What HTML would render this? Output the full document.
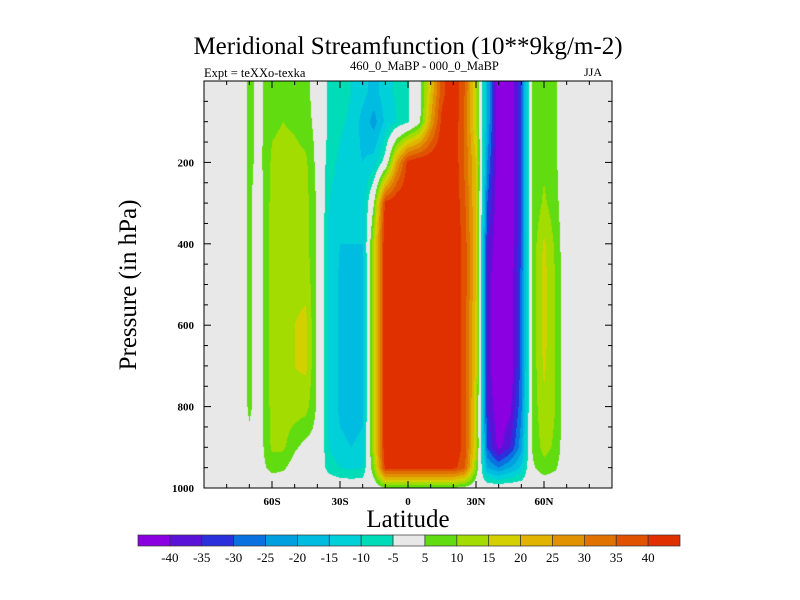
<!DOCTYPE html>
<html><head><meta charset="utf-8"><style>
body{margin:0;background:#fff;width:800px;height:600px;overflow:hidden;font-family:"Liberation Serif",serif}
#wrap{position:relative;width:800px;height:600px}
canvas{position:absolute;left:204px;top:81px}
svg{position:absolute;left:0;top:0}
</style></head><body><div id="wrap">
<canvas id="cv" width="408" height="407"></canvas>
<svg id="sv" width="800" height="600"></svg>
</div>
<script>
const lats=[-90,-85,-80,-75,-70,-65,-60,-55,-50,-45,-40,-35,-30,-25,-20,-15,-10,-5,0,5,10,15,20,25,30,35,40,45,50,55,60,65,70,75,80,85,90];
const levels=[25,100,200,300,400,500,600,700,800,900,950,1000];
// field[latIndex][levelIndex]
const field=[
[0,0,0,0,0,0,0,0,0,0,0,0],
[0,0,0,0,0,0,0,0,0,0,0,0],
[0,0,0,0,0,0,0,0,0,0,0,0],
[2,2,2,2,2,2,2,2,2,2,0,0],
[5.6,5.6,5.6,5.6,5.6,5.6,5.6,5.6,5.6,4,0,0],
[4,4,4,3,3,3,3,3,3,3,3,0],
[8,9,11,12,12,12,12,12,12,11,7,0],
[9,10,12,13,13,13,14,14,13,11,6,0],
[8,9,12,13,13,14,15,15,13,6,2,0],
[6,7,11,12,12,14,16,16,12,3,0,0],
[3,3,3,4,4,4,4,4,4,3,0,0],
[-6,-6,-8,-10,-11,-11,-11,-11,-11,-10,-7,0],
[-8,-9,-11,-13,-15,-16,-16,-16,-16,-14,-10,0],
[-10,-11,-13,-14,-15,-17,-17,-17,-17,-15,-11,0],
[-13,-17,-15,-14,-15,-16,-16,-16,-16,-14,-10,0],
[-17,-22,-13,5,15,15,15,15,15,15,10,0],
[-12,-14,-2,42,45,45,45,45,45,45,42,5],
[-9,-10,25,45,45,45,45,45,45,45,42,5],
[-6,-6,42,45,45,45,45,45,45,45,42,5],
[2,3,45,45,45,45,45,45,45,45,42,5],
[20,25,45,45,45,45,45,45,45,45,42,5],
[38,42,45,45,45,45,45,45,45,45,42,5],
[45,45,45,45,45,45,45,45,45,45,42,5],
[35,34,34,36,38,38,38,38,38,38,36,3],
[15,15,20,20,20,20,18,18,16,15,10,0],
[-20,-20,-25,-30,-35,-38,-38,-38,-35,-30,-20,0],
[-45,-45,-45,-45,-45,-45,-45,-45,-45,-42,-25,0],
[-45,-45,-45,-45,-45,-45,-45,-45,-42,-35,-20,0],
[-30,-30,-30,-30,-30,-28,-28,-28,-26,-22,-14,0],
[6,6,6,6,7,7,7,7,7,6,4,0],
[8,9,9,11,16,17,17,16,14,12,8,0],
[6,6,6,7,9,10,10,10,10,9,6,0],
[0,0,0,0,0,0,0,0,0,0,0,0],
[0,0,0,0,0,0,0,0,0,0,0,0],
[0,0,0,0,0,0,0,0,0,0,0,0],
[0,0,0,0,0,0,0,0,0,0,0,0],
[0,0,0,0,0,0,0,0,0,0,0,0]];
const bounds=[-40,-35,-30,-25,-20,-15,-10,-5,5,10,15,20,25,30,35,40];
const cbLabels=["-40","-35","-30","-25","-20","-15","-10","-5","5","10","15","20","25","30","35","40"];
const xTickLats=[-60,-30,0,30,60];
const xTickLabels=["60S","30S","0","30N","60N"];
const yTickVals=[200,400,600,800,1000];
const colors=["#8a00e0","#5a12d8","#2a30dc","#0a72e0","#00a0e0","#00bce0","#00d0d8","#00dcb8","#e8e8e8","#60dc10","#a2dc00","#d4d000","#e0b400","#e09200","#e07200","#e05200","#e03000"];

const X0=204,X1=612,Y0=81,Y1=488;
const xs=l=>X0+(l+90)/180*(X1-X0);
const ys=p=>Y0+p/1000*(Y1-Y0);
function interp(arr,v){
  if(v<=arr[0])return[0,0]; if(v>=arr[arr.length-1])return[arr.length-2,1];
  for(let i=0;i<arr.length-1;i++) if(v<=arr[i+1]) return[i,(v-arr[i])/(arr[i+1]-arr[i])];
}
function val(lat,p){
  const [i,t]=interp(lats,lat),[j,u]=interp(levels,p);
  const a=field[i][j],b=field[i+1][j],c=field[i][j+1],d=field[i+1][j+1];
  return (a*(1-t)+b*t)*(1-u)+(c*(1-t)+d*t)*u;
}
function cidx(v){let k=0;for(const b of bounds) if(v>=b)k++;return k;}
const rgb=colors.map(h=>[parseInt(h.slice(1,3),16),parseInt(h.slice(3,5),16),parseInt(h.slice(5,7),16)]);
const cv=document.getElementById('cv'),ctx=cv.getContext('2d');
const W=cv.width,H=cv.height,img=ctx.createImageData(W,H);
for(let y=0;y<H;y++){const p=(y+0.5)/H*1000;for(let x=0;x<W;x++){
  const lat=-90+(x+0.5)/W*180;const c=rgb[cidx(val(lat,p))];const o=(y*W+x)*4;
  img.data[o]=c[0];img.data[o+1]=c[1];img.data[o+2]=c[2];img.data[o+3]=255;}}
ctx.putImageData(img,0,0);

const NS='http://www.w3.org/2000/svg',sv=document.getElementById('sv');
function mk(tag,at,txt){const e=document.createElementNS(NS,tag);for(const k in at)e.setAttribute(k,at[k]);if(txt!=null)e.textContent=txt;sv.appendChild(e);return e;}
let e;
e=mk('rect',{x:X0,y:Y0,width:X1-X0,height:Y1-Y0,fill:'none',stroke:'#000','stroke-width':1});


for(let l=-90;l<=90;l+=10){const maj=(l%30===0);const len=maj?7:4;
  e=mk('line',{x1:xs(l),x2:xs(l),y1:Y1,y2:Y1-len,stroke:'#000'});
  
  
  e=mk('line',{x1:xs(l),x2:xs(l),y1:Y0,y2:Y0+len,stroke:'#000'});
  
  }
xTickLats.forEach((l,i)=>{e=mk('text',{x:xs(l),y:Y1+17,'text-anchor':'middle','font-size':11,'font-weight':'bold'},xTickLabels[i]);
  
  });
for(let p=50;p<=1000;p+=50){const maj=(p%200===0);const len=maj?7:4;
  e=mk('line',{x1:X0,x2:X0+len,y1:ys(p),y2:ys(p),stroke:'#000'});
  
  
  e=mk('line',{x1:X1,x2:X1-len,y1:ys(p),y2:ys(p),stroke:'#000'});
  
  }
yTickVals.forEach(p=>{e=mk('text',{x:X0-10,y:ys(p)+4,'text-anchor':'end','font-size':11,'font-weight':'bold'},String(p));
  
  });
e=mk('text',{x:408,y:54,'text-anchor':'middle','font-size':25},'Meridional Streamfunction (10**9kg/m-2)');


e=mk('text',{x:204,y:77,'font-size':12.5},'Expt = teXXo-texka');


e=mk('text',{x:350,y:70,'font-size':12.5},'460_0_MaBP - 000_0_MaBP');


e=mk('text',{x:602,y:76,'text-anchor':'end','font-size':12},'JJA');


e=mk('text',{x:408,y:527,'text-anchor':'middle','font-size':25},'Latitude');


e=mk('text',{x:0,y:0,'text-anchor':'middle','font-size':25,transform:'translate(136,285) rotate(-90)'},'Pressure (in hPa)');


const CB0=138,CB1=680,CBy=535,CBh=11,bw=(CB1-CB0)/colors.length;
colors.forEach((c,i)=>{e=mk('rect',{x:CB0+i*bw,y:CBy,width:bw,height:CBh,fill:c,stroke:'#333','stroke-width':0.7});
  
  });
cbLabels.forEach((t,i)=>{e=mk('text',{x:CB0+(i+1)*bw,y:CBy+27,'text-anchor':'middle','font-size':13},t);
  
  });
</script></body></html>
